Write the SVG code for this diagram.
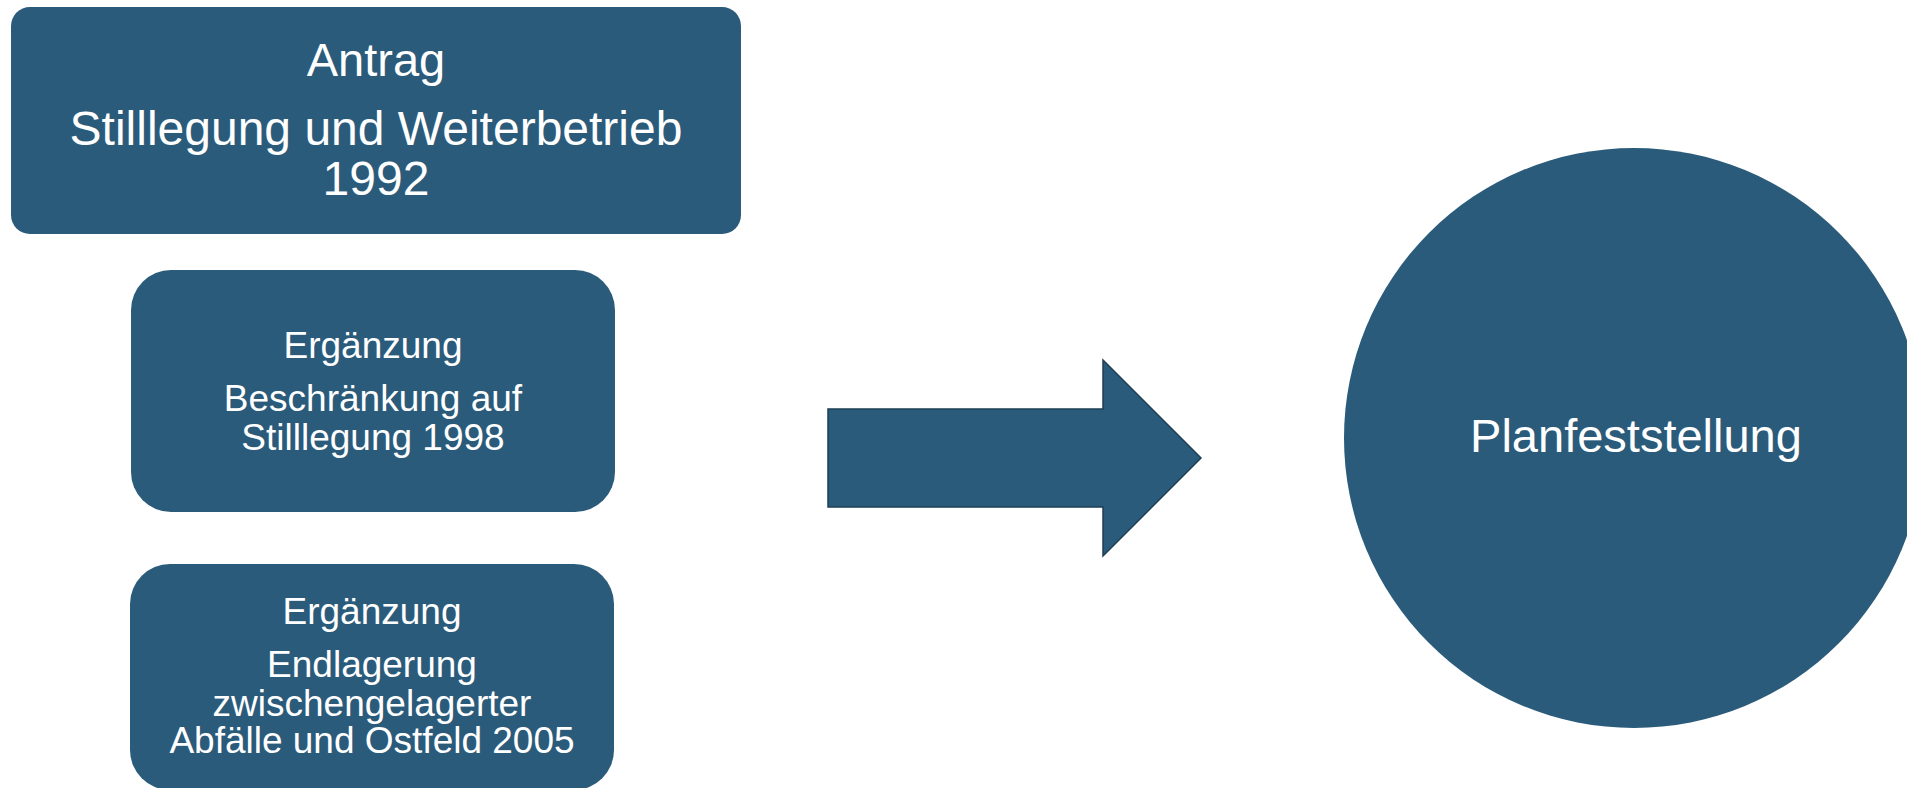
<svg xmlns="http://www.w3.org/2000/svg" width="1907" height="788" viewBox="0 0 1907 788">
<style>
.node{fill:#2B5B7B}
.t{fill:#FFFFFF;font-family:"Liberation Sans",Arial,sans-serif;text-anchor:middle}
.big{font-size:47px}
.big2{font-size:48px}
.small{font-size:37px}
</style>
<rect width="1907" height="788" fill="#FFFFFF"/>
<g id="antrag">
<rect class="node" x="11" y="7" width="730" height="227" rx="19" ry="19"/>
<text class="t big" x="376" y="76">Antrag</text>
<text class="t big2" x="376" y="145">Stilllegung und Weiterbetrieb</text>
<text class="t big2" x="376" y="195">1992</text>
</g>
<g id="ergaenzung1998">
<rect class="node" x="131" y="270" width="484" height="242" rx="40" ry="40"/>
<text class="t small" x="373" y="358">Ergänzung</text>
<text class="t small" x="373" y="411">Beschränkung auf</text>
<text class="t small" x="373" y="450">Stilllegung 1998</text>
</g>
<g id="ergaenzung2005">
<rect class="node" x="130" y="564" width="484" height="226" rx="40" ry="40"/>
<text class="t small" x="372" y="624">Ergänzung</text>
<text class="t small" x="372" y="677">Endlagerung</text>
<text class="t small" x="372" y="716">zwischengelagerter</text>
<text class="t small" x="372" y="753">Abfälle und Ostfeld 2005</text>
</g>
<g id="connectors">
<polygon class="node" points="828,409 1103,409 1103,360 1201,458 1103,556 1103,507 828,507" stroke="#1E3F55" stroke-width="1.5"/>
</g>
<g id="planfeststellung">
<circle class="node" cx="1634" cy="438" r="290"/>
<text class="t big" x="1636" y="452">Planfeststellung</text>
</g>
</svg>
